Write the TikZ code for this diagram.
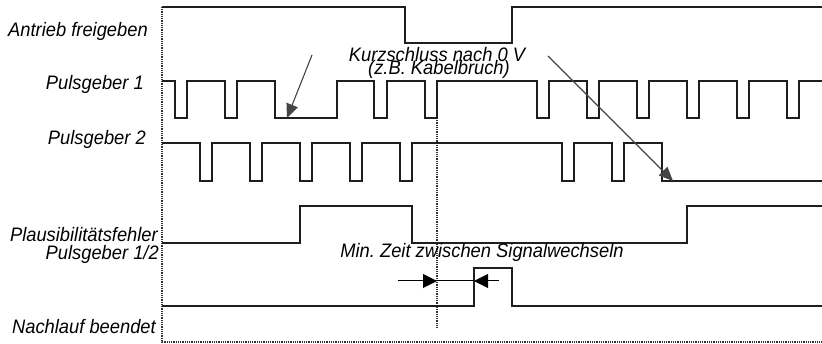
\documentclass[tikz,border=0pt]{standalone}
\usepackage{fontspec}
\setmainfont{Liberation Sans}[FakeStretch=0.94]
\usetikzlibrary{arrows.meta}
\definecolor{sig}{HTML}{1E1E1E}
\definecolor{ann}{HTML}{454545}
\definecolor{dot}{HTML}{303030}
\frenchspacing
\begin{document}
\begin{tikzpicture}[x=1pt,y=-1pt,
  lab/.style={inner sep=0pt,anchor=base east,font=\fontsize{19.5}{20}\selectfont\itshape},
  txt/.style={inner sep=0pt,anchor=base,font=\fontsize{19.5}{20}\selectfont\itshape},
  signal/.style={draw=sig,line width=1.3pt,line join=miter},
  grid/.style={draw=dot,line width=1.1pt,dash pattern=on 1pt off 0.8pt},
  pointer/.style={draw=ann,line width=1.1pt,-{Triangle[length=14pt,width=12pt]}},
  dimarrow/.style={draw=black,line width=1pt}]
\useasboundingbox (0,0) rectangle (822,344);
\fill[white] (0,0) rectangle (822,344);
% labels
\node[lab] (l1) at (148,37) {Antrieb freigeben};
\node[lab] (l2) at (144,90) {Pulsgeber 1};
\node[lab] (l3) at (146,145) {Pulsgeber 2};
\node[lab] (l4) at (158,242) {Plausibilitätsfehler};
\node[lab] (l5) at (159,260) {Pulsgeber 1/2};
\node[lab] (l6) at (156,334) {Nachlauf beendet};
% grid lines
\draw[grid] (162,7) -- (162,342) -- (822,342);
\draw[grid] (437,118) -- (437,328);
% signals
\draw[signal] (162,7) -- (405,7) -- (405,43) -- (512,43) -- (512,7) -- (822,7);
\draw[signal] (162,81) -- (175,81) -- (175,118) -- (187,118) -- (187,81)
  -- (225,81) -- (225,118) -- (237,118) -- (237,81)
  -- (275,81) -- (275,118) -- (337,118) -- (337,81)
  -- (374,81) -- (374,118) -- (387,118) -- (387,81)
  -- (425,81) -- (425,118) -- (437,118) -- (437,81)
  -- (537,81) -- (537,118) -- (549,118) -- (549,81)
  -- (587,81) -- (587,118) -- (599,118) -- (599,81)
  -- (637,81) -- (637,118) -- (649,118) -- (649,81)
  -- (687,81) -- (687,118) -- (699,118) -- (699,81)
  -- (737,81) -- (737,118) -- (749,118) -- (749,81)
  -- (787,81) -- (787,118) -- (799,118) -- (799,81) -- (822,81);
\draw[signal] (162,143) -- (200,143) -- (200,181) -- (212,181) -- (212,143)
  -- (250,143) -- (250,181) -- (262,181) -- (262,143)
  -- (300,143) -- (300,181) -- (312,181) -- (312,143)
  -- (350,143) -- (350,181) -- (362,181) -- (362,143)
  -- (400,143) -- (400,181) -- (412,181) -- (412,143)
  -- (562,143) -- (562,181) -- (574,181) -- (574,143)
  -- (612,143) -- (612,181) -- (624,181) -- (624,143)
  -- (662,143) -- (662,181) -- (822,181);
\draw[signal] (162,243) -- (300,243) -- (300,206) -- (412,206) -- (412,243)
  -- (687,243) -- (687,206) -- (822,206);
\draw[signal] (162,306) -- (474,306) -- (474,268) -- (512,268) -- (512,306) -- (822,306);
% annotations
\node[txt] (k1) at (437,62) {Kurzschluss nach 0 V};
\node[txt] (k2) at (439,75) {(z.B. Kabelbruch)};
\coordinate (a1s) at (312,55);
\coordinate (a1e) at (287,118);
\coordinate (a2s) at (548,56);
\coordinate (a2e) at (673,181);
\draw[pointer] (a1s) -- (a1e);
\draw[pointer] (a2s) -- (a2e);
\node[txt] (mz) at (482,258) {Min. Zeit zwischen Signalwechseln};
\coordinate (d1) at (398,281);
\coordinate (d2) at (437,281);
\coordinate (d3) at (474,281);
\coordinate (d4) at (499,281);
\draw[dimarrow,-{Triangle[length=14pt,width=14pt]}] (d1) -- (d2);
\draw[dimarrow] (d2) -- (d3);
\draw[dimarrow,-{Triangle[length=14pt,width=14pt]}] (d4) -- (d3);
\end{tikzpicture}
\end{document}
